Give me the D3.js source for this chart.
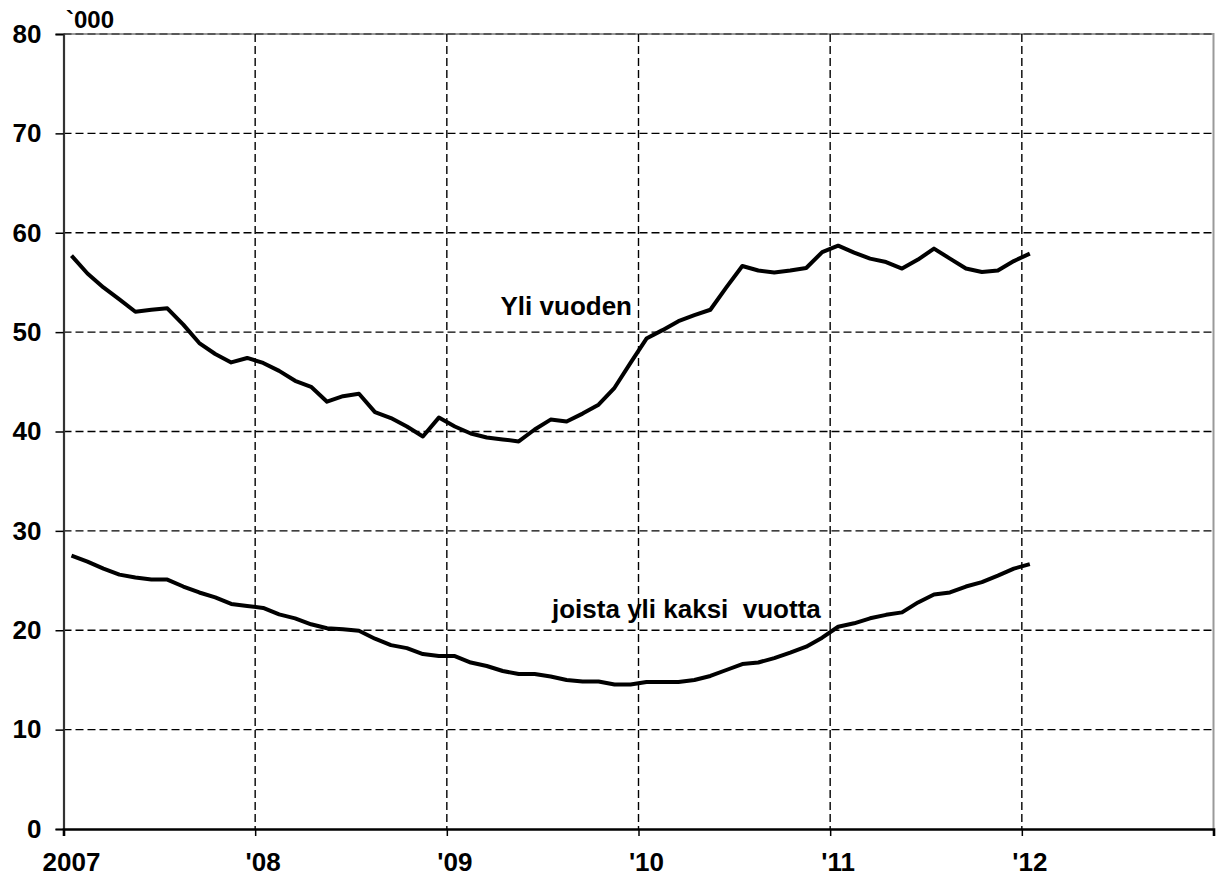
<!DOCTYPE html>
<html>
<head>
<meta charset="utf-8">
<script src="https://cdn.jsdelivr.net/npm/d3@7"></script>
<style>
  html, body { margin: 0; padding: 0; background: #fff; }
  svg { display: block; }
  text { font-family: "Liberation Sans", Arial, sans-serif; font-weight: bold; fill: #000; }
</style>
</head>
<body>
<svg id="chart" width="1216" height="877"></svg>
<script>
// ---- Data (monthly, Jan 2007 – Jan 2012, thousands) ----
const months = d3.range(61); // month index from Jan 2007
const yliVuoden = [57.7, 55.9, 54.5, 53.3, 52.05, 52.25, 52.4, 50.75, 48.9, 47.8, 46.95, 47.4,
  46.9, 46.1, 45.1, 44.5, 43.0, 43.55, 43.8, 41.95, 41.35, 40.5, 39.5, 41.4,
  40.5, 39.8, 39.4, 39.2, 39.0, 40.2, 41.2, 41.0, 41.8, 42.7, 44.4, 46.9,
  49.35, 50.2, 51.1, 51.7, 52.25, 54.5, 56.65, 56.2, 56.0, 56.2, 56.45, 58.05,
  58.7, 58.0, 57.4, 57.05, 56.4, 57.3, 58.4, 57.4, 56.4, 56.05, 56.2, 57.15,
  57.9];
const yliKaksi = [27.5, 26.9, 26.2, 25.6, 25.3, 25.1, 25.1, 24.4, 23.8, 23.3, 22.65, 22.45,
  22.25, 21.6, 21.2, 20.6, 20.2, 20.1, 19.95, 19.15, 18.5, 18.2, 17.6, 17.4,
  17.4, 16.75, 16.4, 15.9, 15.6, 15.6, 15.35, 15.0, 14.85, 14.85, 14.55, 14.55,
  14.8, 14.8, 14.8, 15.0, 15.4, 16.0, 16.6, 16.75, 17.2, 17.75, 18.35, 19.25,
  20.35, 20.7, 21.2, 21.55, 21.8, 22.8, 23.6, 23.8, 24.4, 24.85, 25.5, 26.2,
  26.65];
const yearLabels = ["2007", "'08", "'09", "'10", "'11", "'12"];
const yTicks = [0, 10, 20, 30, 40, 50, 60, 70, 80];
const unitLabel = "`000";
const seriesLabels = ["Yli vuoden", "joista yli kaksi  vuotta"];

// ---- Layout ----
const pLeft = 63.5, pRight = 1213.5, pTop = 34, pBottom = 829;
const svg = d3.select("#chart");
const x = d3.scaleLinear().domain([0, 72]).range([pLeft, pRight]);
const y = d3.scaleLinear().domain([0, 80]).range([pBottom, pTop]);

// plot-area border (top / right)
svg.append("path")
  .attr("d", `M${pLeft},${pTop}H${pRight}V${pBottom}`)
  .attr("fill", "none").attr("stroke", "#9a9a9a").attr("stroke-width", 2);

// horizontal gridlines
svg.append("g").selectAll("line").data(yTicks.filter(d => d > 0)).join("line")
  .attr("x1", pLeft).attr("x2", pRight)
  .attr("y1", d => y(d)).attr("y2", d => y(d))
  .attr("stroke", d => d === 80 ? "#444" : "#000")
  .attr("stroke-width", 1.4).attr("stroke-dasharray", "8,4");

// vertical gridlines at years '08..'12
const yearTicks = d3.range(0, 73, 12);
svg.append("g").selectAll("line").data(yearTicks.filter(d => d > 0 && d < 72)).join("line")
  .attr("x1", d => x(d)).attr("x2", d => x(d))
  .attr("y1", pTop).attr("y2", pBottom)
  .attr("stroke", "#000").attr("stroke-width", 1.4).attr("stroke-dasharray", "8,4");

// y axis
const yAxis = d3.axisLeft(y).tickValues(yTicks).tickSize(8).tickPadding(14).tickFormat(d3.format("d"));
const gy = svg.append("g").attr("transform", `translate(${pLeft},0)`).call(yAxis);
gy.select(".domain").attr("stroke", "#333").attr("stroke-width", 2.2);
gy.selectAll(".tick line").attr("stroke", "#000").attr("stroke-width", 1.5);
gy.selectAll(".tick text").attr("font-size", 26).attr("font-weight", "bold")
  .attr("font-family", "'Liberation Sans', Arial, sans-serif").attr("fill", "#000");

// x axis
const xAxis = d3.axisBottom(x).tickValues(yearTicks).tickSize(7).tickFormat("");
const gx = svg.append("g").attr("transform", `translate(0,${pBottom})`).call(xAxis);
gx.select(".domain").attr("stroke", "#000").attr("stroke-width", 2.6);
gx.selectAll(".tick line").attr("stroke", "#000").attr("stroke-width", 1.5);

// year labels (centred half a month after the year line)
svg.append("g").selectAll("text").data(yearLabels).join("text")
  .attr("x", (d, i) => x(i * 12 + 0.5))
  .attr("y", 871)
  .attr("text-anchor", "middle")
  .attr("font-size", 26)
  .text(d => d);

// unit label
svg.append("text").attr("x", 66).attr("y", 28).attr("font-size", 24).text(unitLabel);

// lines
const line = d3.line().x((d, i) => x(months[i] + 0.5)).y(d => y(d));
[yliVuoden, yliKaksi].forEach(s => {
  svg.append("path").datum(s)
    .attr("d", line)
    .attr("fill", "none").attr("stroke", "#000")
    .attr("stroke-width", 4).attr("stroke-linejoin", "round").attr("stroke-linecap", "butt");
});

// series labels
svg.append("text").attr("x", 632).attr("y", 315).attr("text-anchor", "end")
  .attr("font-size", 26).text(seriesLabels[0]);
svg.append("text").attr("x", 552).attr("y", 618).attr("text-anchor", "start")
  .attr("font-size", 26).attr("xml:space", "preserve").style("white-space", "pre").text(seriesLabels[1]);
</script>
</body>
</html>
